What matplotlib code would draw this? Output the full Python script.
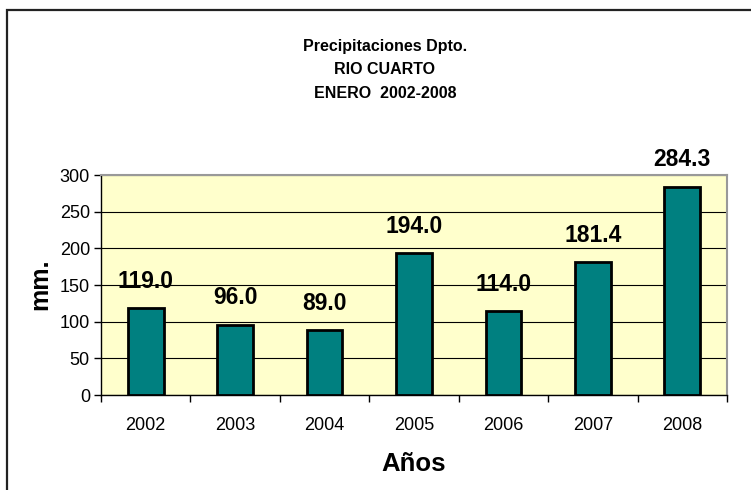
import matplotlib.pyplot as plt
from matplotlib.patches import Rectangle

years = ["2002", "2003", "2004", "2005", "2006", "2007", "2008"]
rain_mm = [119.0, 96.0, 89.0, 194.0, 114.0, 181.4, 284.3]
y_ticks = [0, 50, 100, 150, 200, 250, 300]

plt.rcParams["font.family"] = ["Liberation Sans", "DejaVu Sans"]

W, H = 751, 490
fig = plt.figure(figsize=(W / 100, H / 100), dpi=100)
ax = fig.add_axes([101 / W, 95 / H, 626 / W, 220 / H])

# outer chart-area frame (cropped on right and bottom)
fig.patches.append(Rectangle((7 / W, -0.1), 1.2, (H - 10) / H + 0.1,
                             transform=fig.transFigure, fill=False,
                             edgecolor="#222222", linewidth=1.6, clip_on=False))

ax.set_facecolor("#FFFFCC")
x = range(len(years))
ax.bar(x, rain_mm, width=0.4, color="#008080", edgecolor="black",
       linewidth=2, zorder=3)
for xi, v in zip(x, rain_mm):
    ax.annotate("%.1f" % v, (xi, v), xytext=(0, 14.5), textcoords="offset points",
                ha="center", va="baseline", fontsize=16.5, fontweight="bold")

ax.set_xlim(-0.5, len(years) - 0.5)
ax.set_ylim(0, 300)
ax.set_yticks(y_ticks)
ax.set_yticklabels([str(t) for t in y_ticks], fontsize=13)
ax.yaxis.grid(True, color="black", linewidth=0.8, zorder=1)
ax.set_axisbelow(True)

# category ticks at boundaries, labels in the middle
ax.set_xticks([i - 0.5 for i in range(len(years) + 1)])
ax.set_xticklabels([])
ax.set_xticks(list(x), minor=True)
ax.set_xticklabels(years, minor=True, fontsize=13)
ax.tick_params(axis="x", which="major", direction="out", length=5, width=1)
ax.tick_params(axis="x", which="minor", length=0, pad=16)
ax.tick_params(axis="y", direction="out", length=5, width=1, pad=3)

for side in ["top", "right"]:
    ax.spines[side].set_color("#999999")
    ax.spines[side].set_linewidth(1.5)
for side in ["left", "bottom"]:
    ax.spines[side].set_color("black")
    ax.spines[side].set_linewidth(1)

fig.text(414 / W, 1 - 464 / H, "Años", ha="center", va="center",
         fontsize=18.5, fontweight="bold")
fig.text(40 / W, 1 - 284 / H, "mm.", ha="center", va="center", rotation=90,
         fontsize=18, fontweight="bold")

for yy, line in zip([46, 70, 94], ["Precipitaciones Dpto.", "RIO CUARTO",
                                   "ENERO  2002-2008"]):
    fig.text(385 / W, 1 - yy / H, line, ha="center", va="center",
             fontsize=11.5, fontweight="bold")

fig.savefig("out.png", dpi=100)
